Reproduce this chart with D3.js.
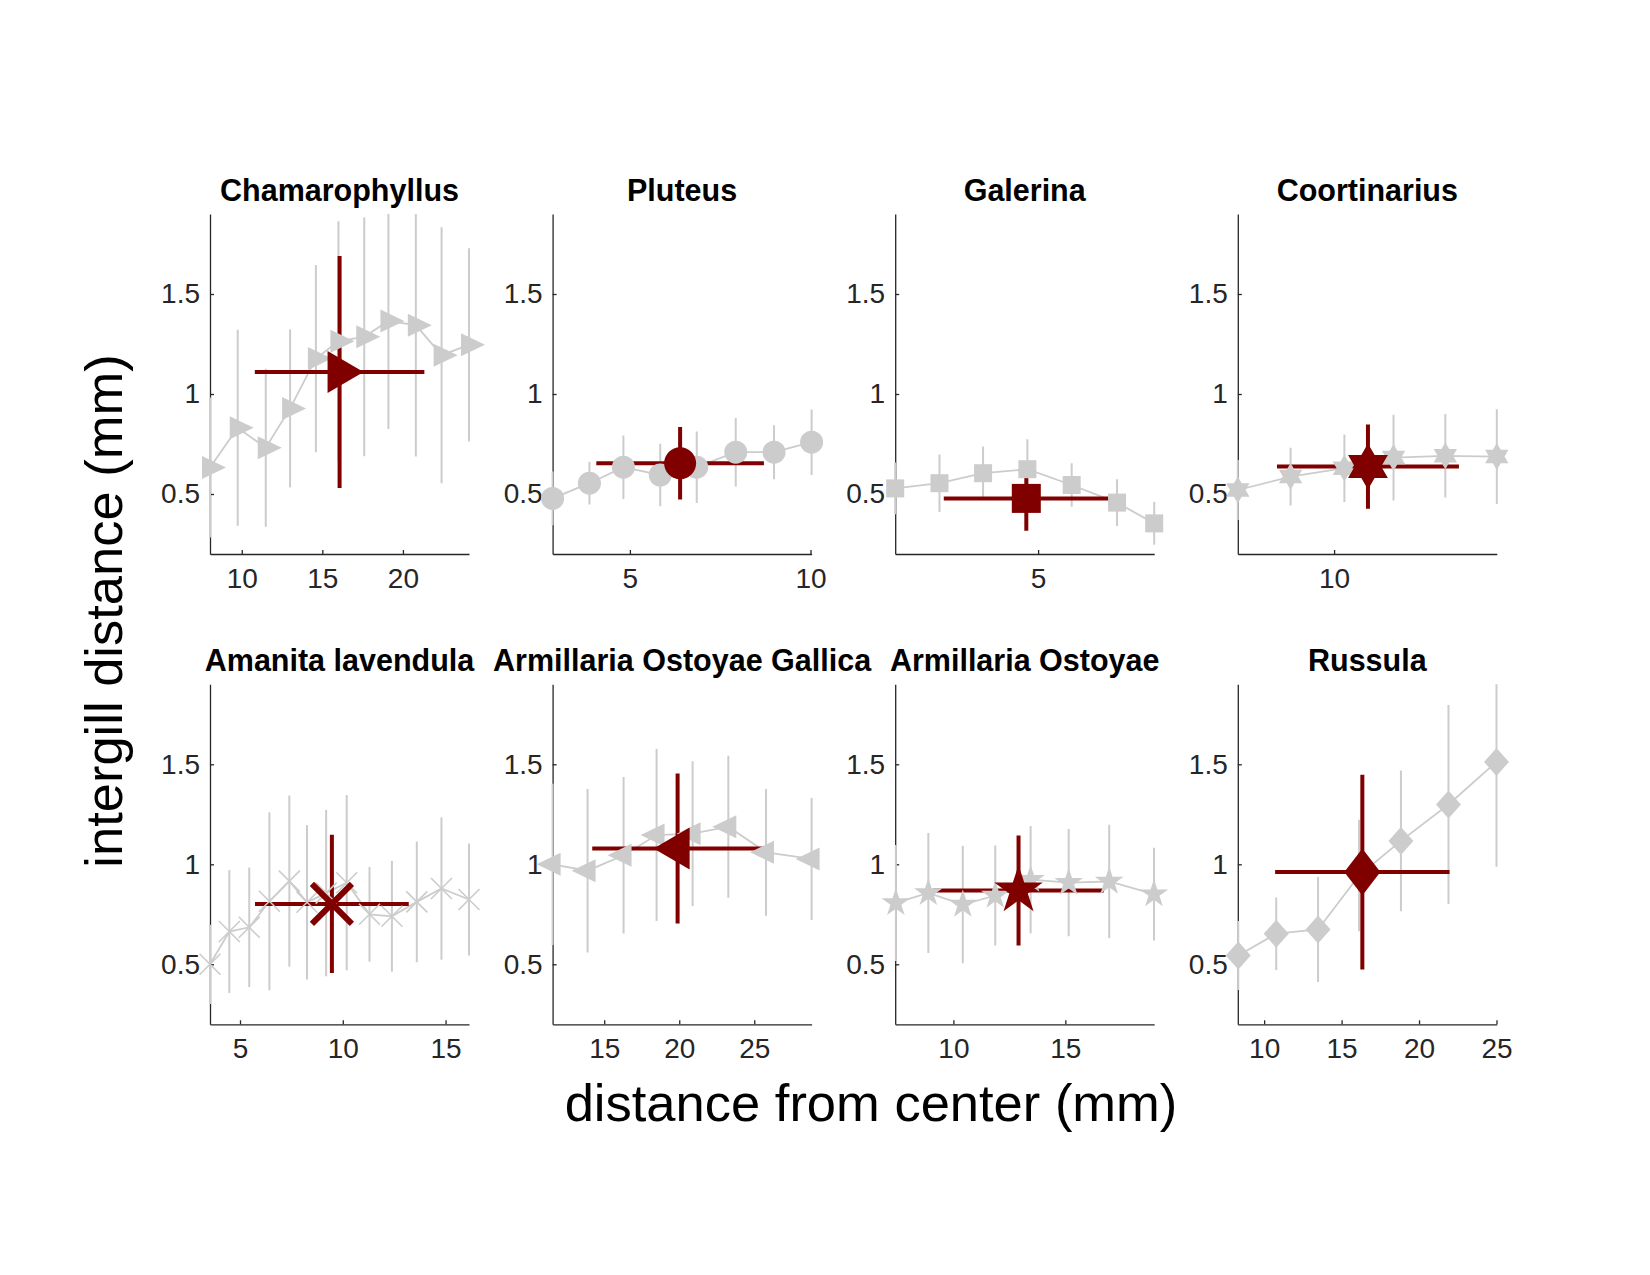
<!DOCTYPE html>
<html>
<head>
<meta charset="utf-8">
<script src="https://cdn.jsdelivr.net/npm/d3@7"></script>
<style>
    body { margin: 0; background: #fff; }
    text { font-family: "Liberation Sans", Arial, Helvetica, sans-serif; }
</style>
</head>
<body>
<div id="chart"></div>
<script>
// genera, one panel each
const genera = ["Chamarophyllus", "Pluteus", "Galerina", "Coortinarius",
    "Amanita lavendula", "Armillaria Ostoyae Gallica", "Armillaria Ostoyae", "Russula"];
const markerTypes = ["triangle-right", "circle", "square", "hexagram",
    "x", "triangle-left", "pentagram", "diamond"];

// binned curves (grey): distance from center, mean intergill distance, sd
const binX = [
    [8.03, 9.75, 11.49, 13.0, 14.6, 16.0, 17.6, 19.1, 20.8, 22.4, 24.1],
    [2.86, 3.88, 4.82, 5.84, 6.85, 7.93, 8.99, 10.03],
    [1.0, 2.24, 3.46, 4.70, 5.94, 7.21, 8.25],
    [7.1, 8.69, 10.31, 11.79, 13.35, 14.9],
    [3.54, 4.48, 5.45, 6.43, 7.40, 8.26, 9.19, 10.19, 11.30, 12.39, 13.6, 14.8, 16.14],
    [11.56, 13.89, 16.29, 18.49, 20.89, 23.27, 25.78, 28.82],
    [7.43, 8.88, 10.42, 11.87, 13.45, 15.15, 16.96, 18.96],
    [8.33, 10.78, 13.48, 16.13, 18.83, 21.9, 25.0]
];
const binMean = [
    [0.633, 0.831, 0.731, 0.928, 1.177, 1.264, 1.286, 1.365, 1.344, 1.194, 1.246],
    [0.478, 0.554, 0.634, 0.595, 0.634, 0.709, 0.709, 0.759],
    [0.528, 0.554, 0.604, 0.624, 0.545, 0.457, 0.353],
    [0.52, 0.587, 0.629, 0.682, 0.691, 0.687],
    [0.5, 0.664, 0.685, 0.815, 0.916, 0.81, 0.856, 0.908, 0.75, 0.74, 0.812, 0.879, 0.824],
    [1.0, 0.968, 1.045, 1.146, 1.153, 1.188, 1.06, 1.027],
    [0.807, 0.857, 0.799, 0.844, 0.923, 0.908, 0.914, 0.851],
    [0.544, 0.653, 0.674, 0.944, 1.117, 1.299, 1.512]
];
const binSd = [
    [0.35, 0.49, 0.395, 0.395, 0.468, 0.6, 0.597, 0.54, 0.657, 0.64, 0.483],
    [0.134, 0.107, 0.159, 0.156, 0.179, 0.171, 0.135, 0.164],
    [0.129, 0.144, 0.134, 0.15, 0.109, 0.117, 0.107],
    [0.15, 0.144, 0.169, 0.214, 0.209, 0.237],
    [0.198, 0.307, 0.299, 0.445, 0.428, 0.386, 0.416, 0.438, 0.237, 0.277, 0.302, 0.356, 0.28],
    [0.403, 0.409, 0.391, 0.43, 0.362, 0.355, 0.317, 0.305],
    [0.29, 0.3, 0.294, 0.25, 0.268, 0.268, 0.284, 0.232],
    [0.173, 0.181, 0.262, 0.279, 0.352, 0.498, 0.524]
];

// overall mean per genus (dark red) with sd in both directions
const meanX = [16.07, 6.39, 4.67, 11.02, 9.47, 19.89, 12.91, 16.34];
const meanXSd = [5.26, 2.32, 2.31, 2.74, 3.74, 5.69, 3.81, 5.63];
const meanY = [1.110, 0.654, 0.478, 0.637, 0.802, 1.079, 0.869, 0.961];
const meanYSd = [0.58, 0.181, 0.162, 0.211, 0.346, 0.375, 0.275, 0.487];

// axes
const xLims = [[8.03, 24.1], [2.86, 10.03], [1.0, 8.25], [7.1, 14.9],
    [3.54, 16.14], [11.56, 28.82], [7.4, 18.97], [8.3, 25.02]];
const xTicks = [[10, 15, 20], [5, 10], [5], [10], [5, 10, 15], [15, 20, 25], [10, 15], [10, 15, 20, 25]];
const yLim = [0.2, 1.9];
const yTicks = [0.5, 1, 1.5];

const width = 1650;
const height = 1275;
const panelW = 259;
const panelH = 340;
const lefts = [210, 552.6, 895.2, 1237.8];
const tops = [214, 684.3];

const grey = "#cccccc";
const red = "#800000";
const axisColor = "#262626";

const svg = d3.select("#chart")
    .append("svg")
    .attr("width", width)
    .attr("height", height);

svg.append("rect").attr("width", width).attr("height", height).attr("fill", "#fff");

// marker sizes: [grey, red]
const mSize = {
    "triangle-right": [[24, 23], [36, 42]],
    "triangle-left": [[24, 23], [36, 42]],
    "circle": [11.5, 16],
    "square": [18, 29],
    "hexagram": [13.5, 23],
    "pentagram": [15, 25.5],
    "x": [10.5, 20],
    "diamond": [[25, 28], [36, 47]]
};

function starPath(n, rOut, rIn) {
    const pts = [];
    for (let k = 0; k < 2 * n; k++) {
        const a = -Math.PI / 2 + k * Math.PI / n;
        const r = k % 2 == 0 ? rOut : rIn;
        pts.push([r * Math.cos(a), r * Math.sin(a)]);
    }
    return "M" + pts.map(p => p[0].toFixed(2) + "," + p[1].toFixed(2)).join("L") + "Z";
}

function markerPath(type, big) {
    const s = mSize[type][big ? 1 : 0];
    if (type == "triangle-right") {
        const w = s[0], h = s[1];
        return `M${-w / 3},${-h / 2}L${2 * w / 3},0L${-w / 3},${h / 2}Z`;
    }
    if (type == "triangle-left") {
        const w = s[0], h = s[1];
        return `M${w / 3},${-h / 2}L${-2 * w / 3},0L${w / 3},${h / 2}Z`;
    }
    if (type == "circle") {
        return `M${s},0A${s},${s} 0 1,1 ${-s},0A${s},${s} 0 1,1 ${s},0Z`;
    }
    if (type == "square") {
        return `M${-s / 2},${-s / 2}H${s / 2}V${s / 2}H${-s / 2}Z`;
    }
    if (type == "hexagram") return starPath(6, s, s / Math.sqrt(3));
    if (type == "pentagram") return starPath(5, s, s * 0.382);
    if (type == "x") return `M${-s},${-s}L${s},${s}M${-s},${s}L${s},${-s}`;
    if (type == "diamond") {
        const w = s[0], h = s[1];
        return `M0,${-h / 2}L${w / 2},0L0,${h / 2}L${-w / 2},0Z`;
    }
}

function drawMarker(g, type, cx, cy, color, big) {
    const p = g.append("path")
        .attr("d", markerPath(type, big))
        .attr("transform", `translate(${cx},${cy})`);
    if (type == "x") {
        p.attr("fill", "none").attr("stroke", color).attr("stroke-width", big ? 6 : 1.6);
    } else {
        p.attr("fill", color).attr("stroke", "none");
    }
}

for (let i = 0; i < genera.length; i++) {
    const col = i % 4;
    const row = Math.floor(i / 4);
    const x0 = lefts[col];
    const y0 = tops[row];

    const xScale = d3.scaleLinear().domain(xLims[i]).range([x0, x0 + panelW]);
    const yScale = d3.scaleLinear().domain(yLim).range([y0 + panelH, y0]);

    const panel = svg.append("g").attr("class", "panel");

    // axes (no box)
    const xAxis = panel.append("g")
        .attr("transform", `translate(0, ${y0 + panelH})`)
        .call(d3.axisBottom(xScale).tickValues(xTicks[i]).tickFormat(d => String(d))
            .tickSizeInner(-4).tickSizeOuter(0).tickPadding(14));
    const yAxis = panel.append("g")
        .attr("transform", `translate(${x0}, 0)`)
        .call(d3.axisLeft(yScale).tickValues(yTicks).tickFormat(d => String(d))
            .tickSizeInner(-4).tickSizeOuter(0).tickPadding(10));
    [xAxis, yAxis].forEach(ax => {
        ax.attr("font-family", null).attr("font-size", null);
        ax.selectAll("path, line").attr("stroke", axisColor).attr("stroke-width", 1.3);
        ax.selectAll("text").attr("fill", axisColor).attr("font-size", "28px");
    });

    // title
    panel.append("text")
        .attr("x", x0 + panelW / 2)
        .attr("y", y0 - 13.5)
        .attr("text-anchor", "middle")
        .attr("font-size", "30.5px")
        .attr("font-weight", "bold")
        .attr("fill", "#000")
        .text(genera[i]);

    // clip for bars and lines
    svg.append("clipPath").attr("id", `clip${i}`)
        .append("rect")
        .attr("x", x0 - 4).attr("y", y0)
        .attr("width", panelW + 8).attr("height", panelH);

    const clipped = panel.append("g").attr("clip-path", `url(#clip${i})`);

    // grey error bars
    for (let j = 0; j < binX[i].length; j++) {
        clipped.append("line")
            .attr("x1", xScale(binX[i][j])).attr("x2", xScale(binX[i][j]))
            .attr("y1", yScale(binMean[i][j] - binSd[i][j]))
            .attr("y2", yScale(binMean[i][j] + binSd[i][j]))
            .attr("stroke", grey)
            .attr("stroke-width", 2);
    }

    // grey curve
    const pts = binX[i].map((x, j) => [x, binMean[i][j]]);
    clipped.append("path")
        .datum(pts)
        .attr("d", d3.line().x(d => xScale(d[0])).y(d => yScale(d[1])))
        .attr("fill", "none")
        .attr("stroke", grey)
        .attr("stroke-width", 1.8);

    // grey markers
    for (let j = 0; j < binX[i].length; j++) {
        drawMarker(panel, markerTypes[i], xScale(binX[i][j]), yScale(binMean[i][j]), grey, false);
    }

    // red mean with sd cross
    clipped.append("line")
        .attr("x1", xScale(meanX[i] - meanXSd[i])).attr("x2", xScale(meanX[i] + meanXSd[i]))
        .attr("y1", yScale(meanY[i])).attr("y2", yScale(meanY[i]))
        .attr("stroke", red).attr("stroke-width", 4);
    clipped.append("line")
        .attr("x1", xScale(meanX[i])).attr("x2", xScale(meanX[i]))
        .attr("y1", yScale(meanY[i] - meanYSd[i])).attr("y2", yScale(meanY[i] + meanYSd[i]))
        .attr("stroke", red).attr("stroke-width", 4);
    drawMarker(panel, markerTypes[i], xScale(meanX[i]), yScale(meanY[i]), red, true);
}

// shared axis labels
svg.append("text")
    .attr("transform", "translate(122, 611) rotate(-90)")
    .attr("text-anchor", "middle")
    .attr("font-size", "52.5px")
    .attr("fill", "#000")
    .text("intergill distance (mm)");

svg.append("text")
    .attr("x", 871)
    .attr("y", 1121)
    .attr("text-anchor", "middle")
    .attr("font-size", "52.5px")
    .attr("fill", "#000")
    .text("distance from center (mm)");
</script>
</body>
</html>
